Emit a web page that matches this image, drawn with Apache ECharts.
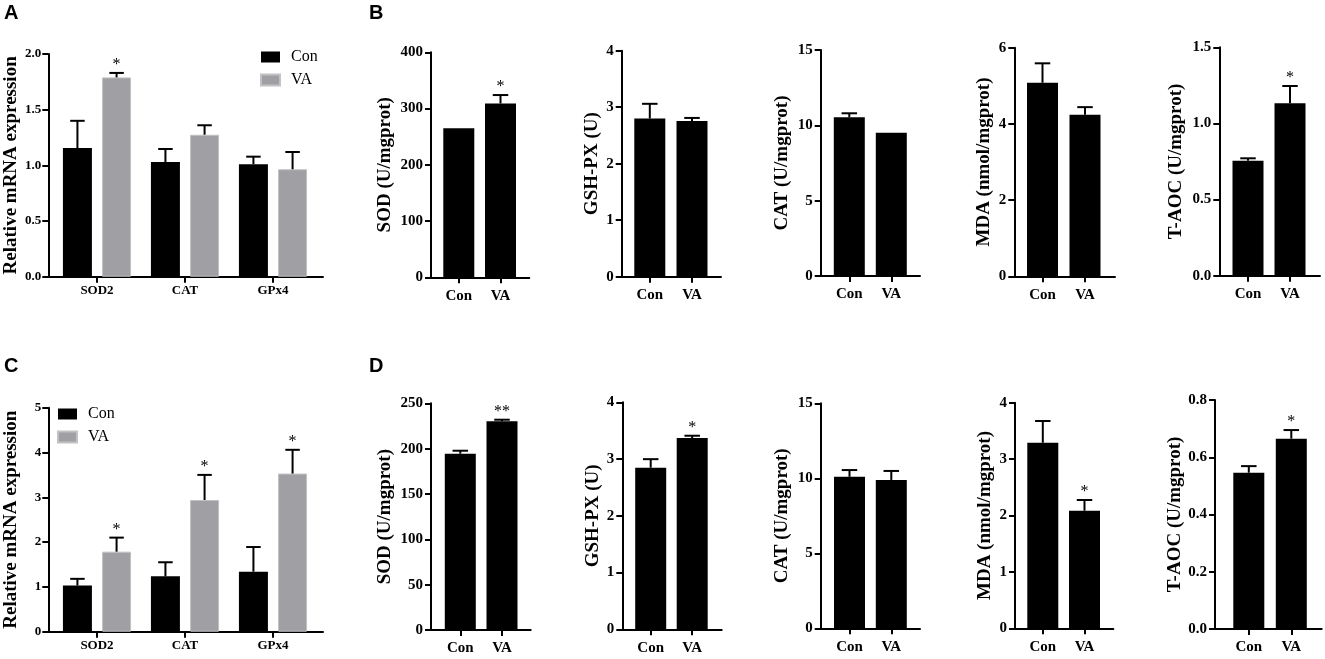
<!DOCTYPE html>
<html>
<head>
<meta charset="utf-8">
<script src="https://cdn.jsdelivr.net/npm/echarts@6/dist/echarts.min.js"></script>
<style>
html,body{margin:0;padding:0;background:#fff;}
#chart{width:1325px;height:659px;}
</style>
</head>
<body>
<div id="chart"></div>
<script>
// ---------------- DATA ----------------
const geneCategories = ['SOD2', 'CAT', 'GPx4'];
const groupNames = ['Con', 'VA'];
const mrnaTicksA = [0, 0.5, 1.0, 1.5, 2.0];
const mrnaTicksC = [0, 1, 2, 3, 4, 5];

const aConMean = [1.155, 1.03, 1.01];
const aConSem  = [0.245, 0.117, 0.068];
const aVaMean  = [1.79, 1.275, 0.965];
const aVaSem   = [0.04, 0.085, 0.155];
const aVaSig   = ['*', '', ''];

const cConMean = [1.03, 1.236, 1.34];
const cConSem  = [0.15, 0.314, 0.55];
const cVaMean  = [1.786, 2.94, 3.53];
const cVaSem   = [0.314, 0.56, 0.53];
const cVaSig   = ['*', '*', '*'];

const assayCategories = ['Con', 'VA'];

const bSodMean = [265, 309];     const bSodSem = [0, 15];        const bSodSig = ['', '*'];   const bSodTicks = [0, 100, 200, 300, 400];
const bGshMean = [2.80, 2.755];  const bGshSem = [0.26, 0.055];  const bGshSig = ['', ''];   const bGshTicks = [0, 1, 2, 3, 4];
const bCatMean = [10.53, 9.51];  const bCatSem = [0.27, 0.04];   const bCatSig = ['', ''];   const bCatTicks = [0, 5, 10, 15];
const bMdaMean = [5.08, 4.24];   const bMdaSem = [0.51, 0.2];    const bMdaSig = ['', ''];   const bMdaTicks = [0, 2, 4, 6];
const bAocMean = [0.755, 1.132]; const bAocSem = [0.016, 0.114]; const bAocSig = ['', '*'];  const bAocTicks = [0, 0.5, 1.0, 1.5];

const dSodMean = [194.4, 230.1]; const dSodSem = [3.3, 1.8];     const dSodSig = ['', '**'];  const dSodTicks = [0, 50, 100, 150, 200, 250];
const dGshMean = [2.848, 3.371]; const dGshSem = [0.15, 0.04];   const dGshSig = ['', '*'];   const dGshTicks = [0, 1, 2, 3, 4];
const dCatMean = [10.1, 9.89];   const dCatSem = [0.45, 0.6];    const dCatSig = ['', ''];    const dCatTicks = [0, 5, 10, 15];
const dMdaMean = [3.29, 2.085];  const dMdaSem = [0.386, 0.19];  const dMdaSig = ['', '*'];   const dMdaTicks = [0, 1, 2, 3, 4];
const dAocMean = [0.546, 0.665]; const dAocSem = [0.023, 0.03];  const dAocSig = ['', '*'];   const dAocTicks = [0, 0.2, 0.4, 0.6, 0.8];

// ---------------- STYLE / LAYOUT ----------------
const SERIF = 'Liberation Serif';
const BLACK = '#000000';
const GRAY = '#a0a0a4';

const option = {
  backgroundColor: '#ffffff',
  animation: false,
  grid: [], xAxis: [], yAxis: [], series: [], legend: [],
  graphic: [
    {type: 'text', left: 4, top: 3, style: {text: 'A', font: 'bold 20px "Liberation Sans"', fill: BLACK}},
    {type: 'text', left: 369, top: 3, style: {text: 'B', font: 'bold 20px "Liberation Sans"', fill: BLACK}},
    {type: 'text', left: 4, top: 356, style: {text: 'C', font: 'bold 20px "Liberation Sans"', fill: BLACK}},
    {type: 'text', left: 369, top: 356, style: {text: 'D', font: 'bold 20px "Liberation Sans"', fill: BLACK}}
  ]
};

function errorSeries(axisIdx, means, sems, sigs, offset, capW, z) {
  return {
    type: 'custom', xAxisIndex: axisIdx, yAxisIndex: axisIdx, z: z || 5, silent: true,
    data: means.map((m, i) => [i, m, m + sems[i]]),
    renderItem: function (params, api) {
      const i = api.value(0);
      const base = api.coord([i, api.value(1)]);
      const top = api.coord([i, api.value(2)]);
      const x = base[0] + offset;
      const children = [];
      if (base[1] - top[1] > 0.8) {
        children.push({type: 'line', shape: {x1: x, y1: base[1], x2: x, y2: top[1]}, style: {stroke: BLACK, lineWidth: 2}});
        children.push({type: 'line', shape: {x1: x - capW / 2, y1: top[1], x2: x + capW / 2, y2: top[1]}, style: {stroke: BLACK, lineWidth: 2}});
      }
      const sig = sigs[params.dataIndex];
      if (sig) {
        children.push({type: 'text', x: x, y: top[1] - 8,
          style: {text: sig, font: '16px "Liberation Serif"', fill: BLACK, align: 'center', verticalAlign: 'middle'}});
      }
      return {type: 'group', children: children};
    }
  };
}

function addPanel(p) {
  const L = p.layout;
  const ticks = p.ticks;
  const ymin = ticks[0], ymax = ticks[ticks.length - 1], step = ticks[1] - ticks[0];
  // frame grid: y axis + full-length x axis line
  const fi = option.grid.length;
  option.grid.push({left: L.axisX, top: L.top, width: L.right - L.axisX, height: L.bottom - L.top});
  option.xAxis.push({gridIndex: fi, type: 'value', min: 0, max: 1,
    axisLine: {show: true, lineStyle: {color: BLACK, width: 2}}, axisTick: {show: false}, axisLabel: {show: false}, splitLine: {show: false}});
  option.yAxis.push({gridIndex: fi, type: 'value', min: ymin, max: ymax, interval: step,
    axisLine: {show: true, lineStyle: {color: BLACK, width: 2}},
    axisTick: {show: true, length: 6, lineStyle: {color: BLACK, width: 2}},
    axisLabel: {margin: p.tickMargin, fontFamily: SERIF, fontWeight: 'bold', fontSize: p.tickSize, color: BLACK, formatter: p.fmt},
    splitLine: {show: false},
    name: p.name, nameLocation: 'middle', nameRotate: 90, nameGap: p.nameGap,
    nameTextStyle: {fontFamily: SERIF, fontWeight: 'bold', fontSize: 19, color: BLACK}});
  // category grid
  const ci = option.grid.length;
  const n = p.categories.length;
  const d = (L.centers[n - 1] - L.centers[0]) / (n - 1);
  option.grid.push({left: L.centers[0] - d / 2, top: L.top, width: d * n, height: L.bottom - L.top});
  option.xAxis.push({gridIndex: ci, type: 'category', data: p.categories,
    axisLine: {show: false},
    axisTick: {show: true, alignWithLabel: true, length: 6, lineStyle: {color: BLACK, width: 2}},
    axisLabel: {margin: p.catMargin, fontFamily: SERIF, fontWeight: 'bold', fontSize: p.catSize, color: BLACK},
    splitLine: {show: false}});
  option.yAxis.push({gridIndex: ci, type: 'value', min: ymin, max: ymax, interval: step, show: false});

  const k = p.bars.length;
  const bw = p.barWidth;
  const gapPx = bw * (p.barGapFrac || 0);
  p.bars.forEach((b, j) => {
    option.series.push({type: 'bar', name: b.name, xAxisIndex: ci, yAxisIndex: ci,
      barWidth: bw, barGap: ((p.barGapFrac || 0) * 100) + '%',
      itemStyle: {color: b.color, borderColor: b.border || b.color, borderWidth: b.border ? 1 : 0},
      data: b.mean, z: 3});
    const offset = -((k * bw + (k - 1) * gapPx) / 2) + j * (bw + gapPx) + bw / 2;
    option.series.push(errorSeries(ci, b.mean, b.sem, b.sig, offset, bw / 2));
  });
}

const fmt1 = v => v.toFixed(1);
const fmt0 = v => String(Math.round(v));

// Panel A
addPanel({layout: {axisX: 48.3, top: 54, bottom: 276.7, right: 323, centers: [97, 185, 273]},
  categories: geneCategories, ticks: mrnaTicksA, fmt: fmt1, name: 'Relative mRNA expression', nameGap: 28,
  tickSize: 13, tickMargin: 7, catSize: 13, catMargin: 7, barWidth: 29, barGapFrac: 0.35,
  bars: [{name: groupNames[0], mean: aConMean, sem: aConSem, sig: ['', '', ''], color: BLACK},
         {name: groupNames[1], mean: aVaMean, sem: aVaSem, sig: aVaSig, color: GRAY, border: '#c2c2c4'}]});
// Panel C
addPanel({layout: {axisX: 48.3, top: 407.7, bottom: 631.7, right: 323, centers: [97, 185, 273]},
  categories: geneCategories, ticks: mrnaTicksC, fmt: fmt0, name: 'Relative mRNA expression', nameGap: 28,
  tickSize: 13, tickMargin: 7, catSize: 13, catMargin: 7, barWidth: 29, barGapFrac: 0.35,
  bars: [{name: groupNames[0], mean: cConMean, sem: cConSem, sig: ['', '', ''], color: BLACK},
         {name: groupNames[1], mean: cVaMean, sem: cVaSem, sig: cVaSig, color: GRAY, border: '#c2c2c4'}]});

function single(layout, ticks, fmt, name, nameGap, mean, sem, sig, id) {
  addPanel({layout: layout, categories: assayCategories, ticks: ticks, fmt: fmt, name: name, nameGap: nameGap,
    tickSize: 15, tickMargin: 8, catSize: 15, catMargin: 11, barWidth: 31, barGapFrac: 0,
    bars: [{name: id, mean: mean, sem: sem, sig: sig, color: BLACK}]});
}
// Panel B
single({axisX: 431, top: 52.3, bottom: 277.3, right: 529.3, centers: [458.8, 500.5]}, bSodTicks, fmt0, 'SOD (U/mgprot)', 36, bSodMean, bSodSem, bSodSig, 'B-SOD');
single({axisX: 621.7, top: 50.7, bottom: 276.7, right: 721, centers: [649.8, 692]}, bGshTicks, fmt0, 'GSH-PX (U)', 20, bGshMean, bGshSem, bGshSig, 'B-GSH');
single({axisX: 820.7, top: 50, bottom: 276, right: 920, centers: [849.3, 891.3]}, bCatTicks, fmt0, 'CAT (U/mgprot)', 29, bCatMean, bCatSem, bCatSig, 'B-CAT');
single({axisX: 1014.3, top: 47.7, bottom: 276.3, right: 1115, centers: [1042.5, 1085]}, bMdaTicks, fmt0, 'MDA (nmol/mgprot)', 21, bMdaMean, bMdaSem, bMdaSig, 'B-MDA');
single({axisX: 1219.3, top: 47.3, bottom: 275.7, right: 1320, centers: [1248, 1290]}, bAocTicks, fmt1, 'T-AOC (U/mgprot)', 34, bAocMean, bAocSem, bAocSig, 'B-AOC');
// Panel D
single({axisX: 431, top: 403.3, bottom: 630, right: 530.7, centers: [460.3, 502]}, dSodTicks, fmt0, 'SOD (U/mgprot)', 36, dSodMean, dSodSem, dSodSig, 'D-SOD');
single({axisX: 622.3, top: 402.3, bottom: 629.3, right: 721.7, centers: [650.7, 692.2]}, dGshTicks, fmt0, 'GSH-PX (U)', 20, dGshMean, dGshSem, dGshSig, 'D-GSH');
single({axisX: 820.7, top: 403.3, bottom: 628.3, right: 920, centers: [849.5, 891.3]}, dCatTicks, fmt0, 'CAT (U/mgprot)', 29, dCatMean, dCatSem, dCatSig, 'D-CAT');
single({axisX: 1015, top: 402.7, bottom: 628.3, right: 1113.3, centers: [1042.8, 1084.5]}, dMdaTicks, fmt0, 'MDA (nmol/mgprot)', 20, dMdaMean, dMdaSem, dMdaSig, 'D-MDA');
single({axisX: 1215, top: 400, bottom: 629, right: 1321.7, centers: [1248.8, 1291.3]}, dAocTicks, fmt1, 'T-AOC (U/mgprot)', 30, dAocMean, dAocSem, dAocSig, 'D-AOC');

// Legends
const legendBase = {data: groupNames, orient: 'vertical', icon: 'rect', itemWidth: 19, itemHeight: 11, itemGap: 7,
  padding: 0, selectedMode: false, textStyle: {fontFamily: SERIF, fontSize: 16, color: BLACK, padding: [0, 0, 0, 6]}};
option.legend.push(Object.assign({}, legendBase, {left: 260, top: 49}));
option.legend.push(Object.assign({}, legendBase, {left: 57, top: 406}));

const chart = echarts.init(document.getElementById('chart'), null, {renderer: 'canvas'});
chart.setOption(option);
</script>
</body>
</html>
